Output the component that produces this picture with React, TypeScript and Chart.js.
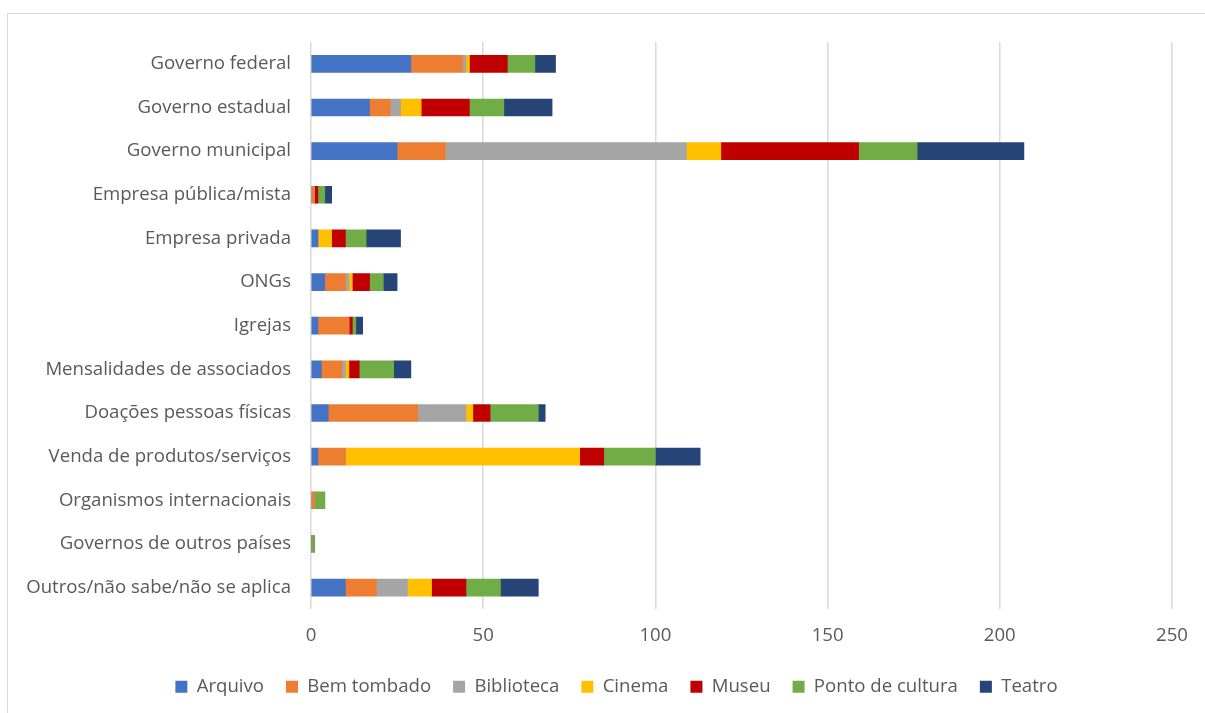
import React, { useEffect, useRef } from "react";
import { Chart, registerables } from "chart.js";

Chart.register(...registerables);

const categories = [
  "Governo federal",
  "Governo estadual",
  "Governo municipal",
  "Empresa pública/mista",
  "Empresa privada",
  "ONGs",
  "Igrejas",
  "Mensalidades de associados",
  "Doações pessoas físicas",
  "Venda de produtos/serviços",
  "Organismos internacionais",
  "Governos de outros países",
  "Outros/não sabe/não se aplica",
];

const arquivo = [29, 17, 25, 0, 2, 4, 2, 3, 5, 2, 0, 0, 10];
const bemTombado = [15, 6, 14, 1, 0, 6, 9, 6, 26, 8, 1, 0, 9];
const biblioteca = [1, 3, 70, 0, 0, 1, 0, 1, 14, 0, 0, 0, 9];
const cinema = [1, 6, 10, 0, 4, 1, 0, 1, 2, 68, 0, 0, 7];
const museu = [11, 14, 40, 1, 4, 5, 1, 3, 5, 7, 0, 0, 10];
const pontoDeCultura = [8, 10, 17, 2, 6, 4, 1, 10, 14, 15, 3, 1, 10];
const teatro = [6, 14, 31, 2, 10, 4, 2, 5, 2, 13, 0, 0, 11];

const xTicks = [0, 50, 100, 150, 200, 250];

const FONT = "'Open Sans', sans-serif";
const TEXT = "#595959";
const SIZE = 18.6;

// centre the legend on the whole canvas rather than on the padded layout area
const centerLegend = {
  id: "centerLegend",
  afterLayout(chart: any) {
    const lg = chart.legend;
    if (!lg) return;
    const shift = (chart.width - (lg.left + lg.right)) / 2;
    lg.left += shift;
    lg.right += shift;
  },
};

export default function App() {
  const ref = useRef<HTMLCanvasElement | null>(null);

  useEffect(() => {
    if (!ref.current) return;
    const series = [
      { label: "Arquivo", data: arquivo, color: "#4472C4" },
      { label: "Bem tombado", data: bemTombado, color: "#ED7D31" },
      { label: "Biblioteca", data: biblioteca, color: "#A5A5A5" },
      { label: "Cinema", data: cinema, color: "#FFC000" },
      { label: "Museu", data: museu, color: "#C00000" },
      { label: "Ponto de cultura", data: pontoDeCultura, color: "#70AD47" },
      { label: "Teatro", data: teatro, color: "#264478" },
    ];
    const chart = new Chart(ref.current, {
      type: "bar",
      data: {
        labels: categories,
        datasets: series.map((s) => ({
          label: s.label,
          data: s.data,
          backgroundColor: s.color,
          borderWidth: 0,
          barThickness: 17,
        })),
      },
      plugins: [centerLegend],
      options: {
        indexAxis: "y",
        animation: false,
        responsive: false,
        maintainAspectRatio: false,
        layout: { padding: { top: 28, right: 53, bottom: 16, left: 0 } },
        scales: {
          x: {
            stacked: true,
            min: 0,
            max: 250,
            afterBuildTicks: (scale: any) => {
              scale.ticks = xTicks.map((v) => ({ value: v }));
            },
            afterFit: (scale: any) => {
              scale.height = 46;
            },
            grid: { color: "#d9d9d9", lineWidth: 1.5, drawTicks: false },
            border: { display: false },
            ticks: {
              padding: 15,
              color: TEXT,
              font: { family: FONT, size: SIZE },
            },
          },
          y: {
            stacked: true,
            afterFit: (scale: any) => {
              scale.width = 303;
              scale.paddingTop = 0;
              scale.paddingBottom = 0;
            },
            grid: { display: false, drawTicks: false },
            border: { display: false },
            ticks: {
              padding: 20,
              color: TEXT,
              font: { family: FONT, size: SIZE },
            },
          },
        },
        plugins: {
          legend: {
            position: "bottom",
            labels: {
              boxWidth: 12,
              boxHeight: 12,
              padding: 22,
              color: TEXT,
              font: { family: FONT, size: SIZE },
            },
          },
          tooltip: { enabled: false },
        },
      },
    });
    return () => chart.destroy();
  }, []);

  return (
    <div
      style={{
        position: "fixed",
        left: 0,
        top: 0,
        width: 1205,
        height: 713,
        overflow: "hidden",
        background: "#fff",
      }}
    >
      <div
        style={{
          position: "absolute",
          left: 7,
          top: 13,
          width: 1219,
          height: 710,
          border: "1px solid #d9d9d9",
          boxSizing: "border-box",
        }}
      >
        <canvas
          ref={ref}
          width={1217}
          height={708}
          style={{ display: "block", width: 1217, height: 708 }}
        />
      </div>
    </div>
  );
}
